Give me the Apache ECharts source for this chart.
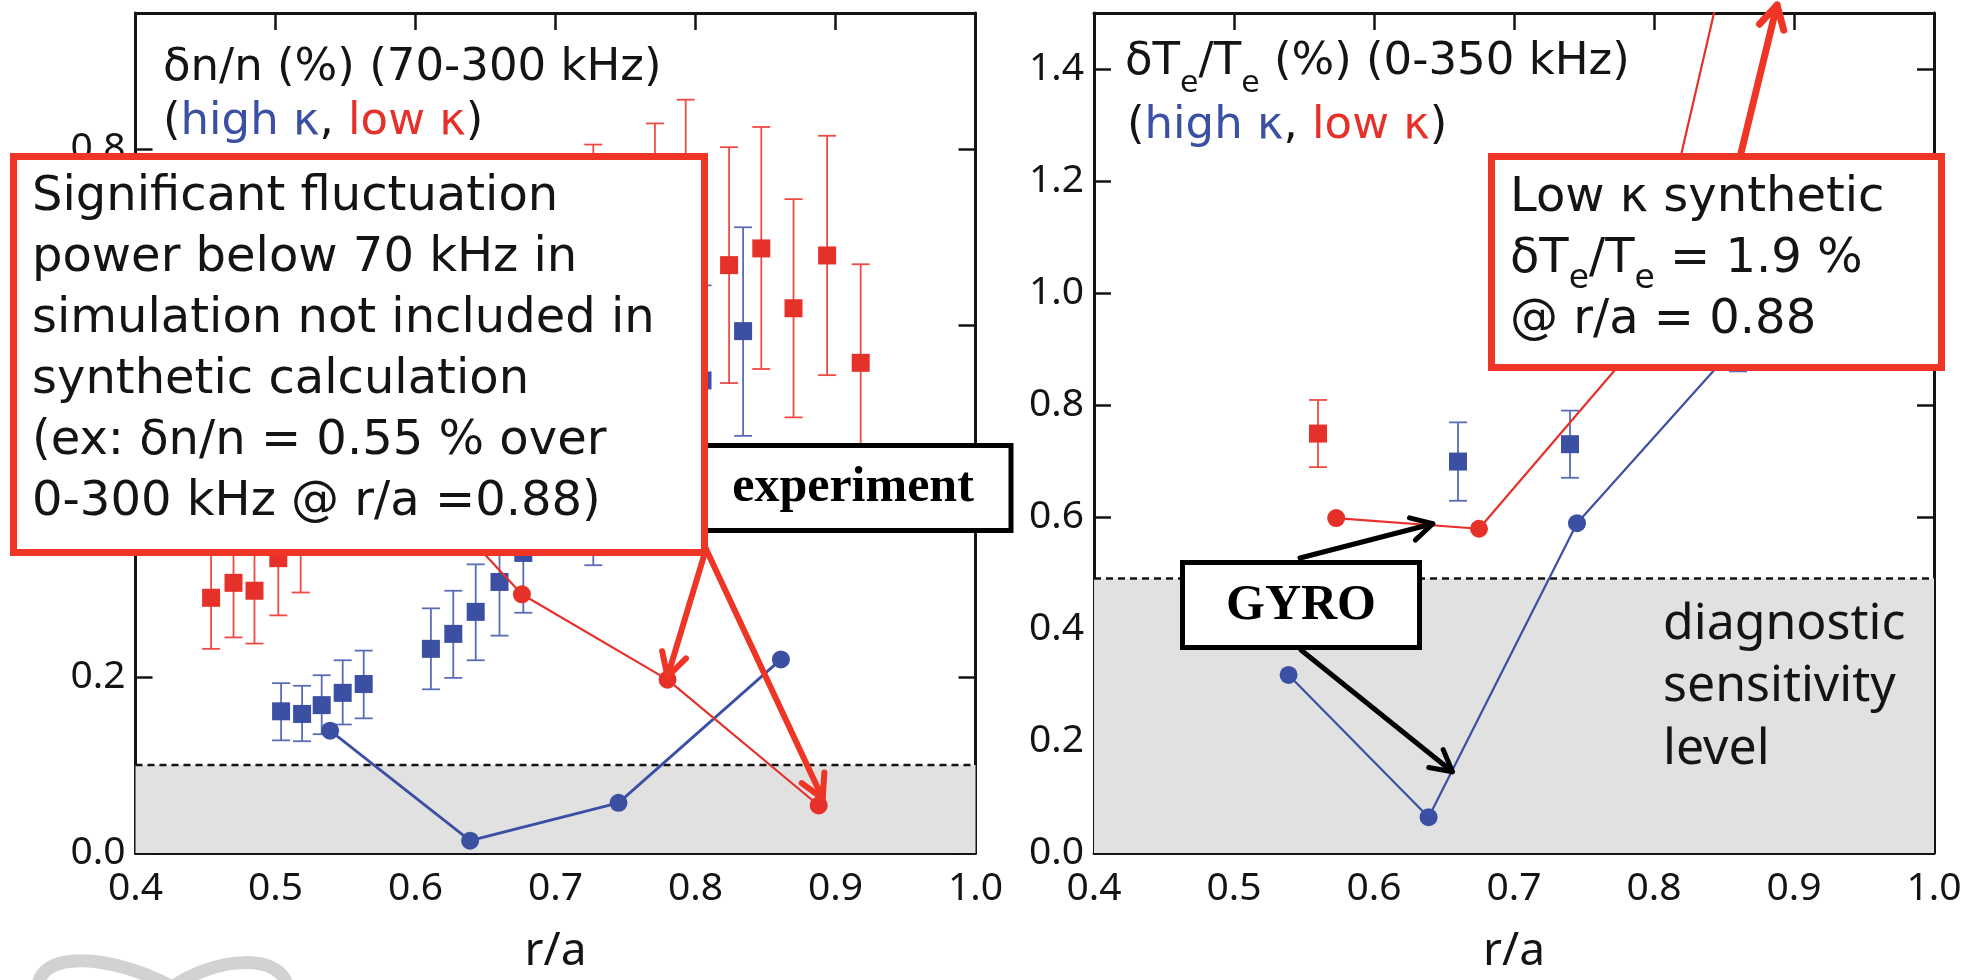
<!DOCTYPE html>
<html>
<head>
<meta charset="utf-8">
<script src="https://cdn.jsdelivr.net/npm/echarts@6/dist/echarts.min.js"></script>
<style>
  html, body { margin: 0; padding: 0; background: #ffffff; }
  #chart { width: 1984px; height: 980px; }
</style>
</head>
<body>
<div id="chart"></div>
<script>
// ---- Left panel: density fluctuation δn/n (%) vs r/a ----
// experiment, high κ (blue squares with error bars)
const dnHighR  = [0.504, 0.519, 0.533, 0.548, 0.563, 0.611, 0.627, 0.643, 0.660, 0.677, 0.727, 0.805, 0.834];
const dnHighV  = [0.161, 0.158, 0.168, 0.182, 0.192, 0.232, 0.249, 0.274, 0.308, 0.341, 0.400, 0.537, 0.593];
const dnHighLo = [0.128, 0.127, 0.135, 0.146, 0.153, 0.186, 0.199, 0.219, 0.247, 0.273, 0.327, 0.430, 0.474];
const dnHighHi = [0.193, 0.190, 0.202, 0.219, 0.230, 0.278, 0.298, 0.328, 0.369, 0.409, 0.473, 0.645, 0.711];
// experiment, low κ (red squares with error bars)
const dnLowR  = [0.454, 0.470, 0.485, 0.502, 0.518, 0.727, 0.771, 0.793, 0.824, 0.847, 0.870, 0.894, 0.918];
const dnLowV  = [0.290, 0.307, 0.298, 0.335, 0.365, 0.640, 0.690, 0.720, 0.668, 0.687, 0.619, 0.679, 0.557];
const dnLowLo = [0.232, 0.245, 0.238, 0.270, 0.296, 0.475, 0.550, 0.585, 0.534, 0.550, 0.495, 0.543, 0.446];
const dnLowHi = [0.348, 0.369, 0.358, 0.400, 0.435, 0.805, 0.829, 0.856, 0.802, 0.825, 0.743, 0.815, 0.669];
// GYRO synthetic values
const gyroDnHighR = [0.539, 0.639, 0.745, 0.861];
const gyroDnHighV = [0.139, 0.014, 0.057, 0.220];
const gyroDnLowR  = [0.573, 0.676, 0.780, 0.888];
const gyroDnLowV  = [0.470, 0.294, 0.197, 0.054];
const dnSensitivity = 0.10;

// ---- Right panel: electron temperature fluctuation δTe/Te (%) vs r/a ----
const dtHighR  = [0.660, 0.740, 0.860];
const dtHighV  = [0.699, 0.730, 0.940];
const dtHighLo = [0.629, 0.670, 0.860];
const dtHighHi = [0.769, 0.790, 1.020];
const dtLowR  = [0.560];
const dtLowV  = [0.749];
const dtLowLo = [0.689];
const dtLowHi = [0.809];
const gyroDtHighR = [0.539, 0.639, 0.745, 0.860];
const gyroDtHighV = [0.318, 0.064, 0.589, 0.910];
const gyroDtLowR  = [0.573, 0.675, 0.788, 0.880];
const gyroDtLowV  = [0.598, 0.579, 0.909, 1.9];
const dtSensitivity = 0.49;

// axis ranges
const xMin = 0.4, xMax = 1.0, xStep = 0.1;
const dnYMax = 0.9545, dtYMax = 1.5, yStep = 0.2;

// ---- styling ----
const BLUE = '#3b4fa3', BLUE_BAR = '#5a6cb6';
const RED = '#e6302a', RED_BAR = '#ee4b44', BOX_RED = '#ee3526';
const INK = '#141414';
const SANS = '"DejaVu Sans", sans-serif';
const TICK_FONT = '"Noto Sans", sans-serif';
const SERIF = '"Liberation Serif", serif';

const chart = echarts.init(document.getElementById('chart'), null, { renderer: 'canvas', width: 1984, height: 980 });

const zip3 = (a, b, c) => a.map((v, i) => [v, b[i], c[i]]);
const zip2 = (a, b) => a.map((v, i) => [v, b[i]]);

function errorBarItem(params, api) {
  const x = api.value(0);
  const top = api.coord([x, api.value(2)]);
  const bot = api.coord([x, api.value(1)]);
  const cap = 9;
  const style = { stroke: api.visual('color'), lineWidth: 1.8 };
  return {
    type: 'group',
    children: [
      { type: 'line', shape: { x1: top[0], y1: top[1], x2: bot[0], y2: bot[1] }, style },
      { type: 'line', shape: { x1: top[0] - cap, y1: top[1], x2: top[0] + cap, y2: top[1] }, style },
      { type: 'line', shape: { x1: bot[0] - cap, y1: bot[1], x2: bot[0] + cap, y2: bot[1] }, style }
    ]
  };
}

function makeXAxes(gridIndex) {
  const common = {
    type: 'value', gridIndex, min: xMin, max: xMax, interval: xStep,
    splitLine: { show: false },
    axisLine: { onZero: false, lineStyle: { color: INK, width: 3 } },
    axisTick: { inside: true, length: 17, lineStyle: { color: INK, width: 2.5 } }
  };
  return [
    Object.assign({}, common, {
      position: 'bottom',
      axisLabel: { margin: 16, fontSize: 39, fontFamily: TICK_FONT, color: INK, formatter: v => v.toFixed(1) },
      name: 'r/a', nameLocation: 'middle', nameGap: 76,
      nameTextStyle: { fontSize: 46, fontFamily: TICK_FONT, color: INK }
    }),
    Object.assign({}, common, { position: 'top', axisLabel: { show: false } })
  ];
}

function makeYAxes(gridIndex, yMax) {
  const common = {
    type: 'value', gridIndex, min: 0, max: yMax, interval: yStep,
    splitLine: { show: false },
    axisLine: { onZero: false, lineStyle: { color: INK, width: 3 } },
    axisTick: { inside: true, length: 17, lineStyle: { color: INK, width: 2.5 } }
  };
  return [
    Object.assign({}, common, {
      position: 'left',
      axisLabel: { margin: 10, fontSize: 39, fontFamily: TICK_FONT, color: INK, showMaxLabel: false, formatter: v => v.toFixed(1) }
    }),
    Object.assign({}, common, { position: 'right', axisLabel: { show: false } })
  ];
}

function panelSeries(xi, yi, d) {
  return [
    { // sensitivity level: shaded band with dashed top
      type: 'line', xAxisIndex: xi, yAxisIndex: yi, z: 1, silent: true,
      data: [[xMin, d.level], [xMax, d.level]], symbol: 'none',
      lineStyle: { color: INK, width: 2.5, type: [7, 5] },
      areaStyle: { color: '#e1e1e1', opacity: 1 }
    },
    { type: 'custom', xAxisIndex: xi, yAxisIndex: yi, z: 3, renderItem: errorBarItem,
      itemStyle: { color: BLUE_BAR }, encode: { x: 0, y: [1, 2] }, data: d.highBars },
    { type: 'custom', xAxisIndex: xi, yAxisIndex: yi, z: 3, renderItem: errorBarItem,
      itemStyle: { color: RED_BAR }, encode: { x: 0, y: [1, 2] }, data: d.lowBars },
    { type: 'scatter', xAxisIndex: xi, yAxisIndex: yi, z: 4, symbol: 'rect', symbolSize: 18,
      itemStyle: { color: BLUE, opacity: 1 }, data: d.highPts },
    { type: 'scatter', xAxisIndex: xi, yAxisIndex: yi, z: 4, symbol: 'rect', symbolSize: 18,
      itemStyle: { color: RED, opacity: 1 }, data: d.lowPts },
    { type: 'line', xAxisIndex: xi, yAxisIndex: yi, z: 5, symbol: 'circle', symbolSize: 18, showAllSymbol: true,
      itemStyle: { color: BLUE }, lineStyle: { color: BLUE, width: d.highWidth }, data: d.gyroHigh },
    { type: 'line', xAxisIndex: xi, yAxisIndex: yi, z: 5, symbol: 'circle', symbolSize: 18, showAllSymbol: true,
      itemStyle: { color: RED }, lineStyle: { color: RED, width: 2.2 }, data: d.gyroLow }
  ];
}

const option = {
  backgroundColor: '#ffffff',
  animation: false,
  grid: [
    { left: 135.5, top: 13, width: 840, height: 840, containLabel: false, outerBoundsMode: 'none' },
    { left: 1094, top: 13, width: 840, height: 840, containLabel: false, outerBoundsMode: 'none' }
  ],
  xAxis: makeXAxes(0).concat(makeXAxes(1)),
  yAxis: makeYAxes(0, dnYMax).concat(makeYAxes(1, dtYMax)),
  series: panelSeries(0, 0, {
    level: dnSensitivity,
    highBars: zip3(dnHighR, dnHighLo, dnHighHi),
    lowBars: zip3(dnLowR, dnLowLo, dnLowHi),
    highPts: zip2(dnHighR, dnHighV),
    lowPts: zip2(dnLowR, dnLowV),
    gyroHigh: zip2(gyroDnHighR, gyroDnHighV),
    gyroLow: zip2(gyroDnLowR, gyroDnLowV),
    highWidth: 2.8
  }).concat(panelSeries(2, 2, {
    level: dtSensitivity,
    highBars: zip3(dtHighR, dtHighLo, dtHighHi),
    lowBars: zip3(dtLowR, dtLowLo, dtLowHi),
    highPts: zip2(dtHighR, dtHighV),
    lowPts: zip2(dtLowR, dtLowV),
    gyroHigh: zip2(gyroDtHighR, gyroDtHighV),
    gyroLow: zip2(gyroDtLowR, gyroDtLowV),
    highWidth: 2.2
  }))
};
chart.setOption(option);

// ---- annotations ----
const toPx = (gridIndex, p) => chart.convertToPixel({ gridIndex }, p);

function arrow(from, to, color, width, head, z) {
  const ang = Math.atan2(to[1] - from[1], to[0] - from[0]);
  const a1 = ang + Math.PI - 0.5, a2 = ang + Math.PI + 0.5;
  const style = { stroke: color, lineWidth: width, fill: null, lineCap: 'round', lineJoin: 'round' };
  return [
    { type: 'line', z, shape: { x1: from[0], y1: from[1], x2: to[0], y2: to[1] }, style },
    { type: 'polyline', z, shape: { points: [
      [to[0] + head * Math.cos(a1), to[1] + head * Math.sin(a1)], to,
      [to[0] + head * Math.cos(a2), to[1] + head * Math.sin(a2)]] }, style }
  ];
}

// text placed by baseline
function textLine(x, baseline, text, fs, family, extra) {
  return Object.assign({
    type: 'text', z: 103, x: x, y: baseline - 0.33 * fs,
    style: Object.assign({ text, fontSize: fs, fontFamily: family, fill: INK, align: 'left', verticalAlign: 'middle' }, extra || {})
  });
}

function subRich(fs, subFs) {
  return {
    m: { fontSize: fs, fontFamily: SANS, fill: INK, lineHeight: 74, verticalAlign: 'middle' },
    s: { fontSize: subFs, fontFamily: SANS, fill: INK, lineHeight: subFs, verticalAlign: 'bottom' }
  };
}

const kappaRich = {
  k: { fontSize: 45, fontFamily: SANS, fill: INK },
  b: { fontSize: 45, fontFamily: SANS, fill: BLUE },
  r: { fontSize: 45, fontFamily: SANS, fill: RED }
};

const graphics = [];

// faint logo mark in the lower-left corner
graphics.push(
  { type: 'bezierCurve', z: 0, shape: { x1: 38, y1: 990, cpx1: 36, cpy1: 950, cpx2: 110, cpy2: 952, x2: 178, y2: 990 },
    style: { stroke: '#d2d2d2', lineWidth: 13, fill: null } },
  { type: 'bezierCurve', z: 0, shape: { x1: 168, y1: 990, cpx1: 215, cpy1: 955, cpx2: 285, cpy2: 952, x2: 288, y2: 990 },
    style: { stroke: '#d2d2d2', lineWidth: 13, fill: null } }
);

// panel headers
graphics.push(textLine(163, 83, 'δn/n (%) (70-300 kHz)', 45, SANS, { }));
graphics.push(textLine(163, 137, '{k|(}{b|high κ}{k|, }{r|low κ}{k|)}', 45, SANS, { rich: kappaRich }));
graphics.push(textLine(1125, 77, '{m|δT}{s|e}{m|/T}{s|e}{m| (%) (0-350 kHz)}', 45, SANS, { rich: subRich(45, 30) }));
graphics.push(textLine(1127, 141, '{k|(}{b|high κ}{k|, }{r|low κ}{k|)}', 45, SANS, { rich: kappaRich }));

// diagnostic sensitivity label
['diagnostic', 'sensitivity', 'level'].forEach((t, i) => {
  graphics.push(Object.assign(textLine(1663, 641 + i * 62.5, t, 50, TICK_FONT), { z: 50 }));
});

// "experiment" box (partly behind the red note)
graphics.push({ type: 'rect', z: 100, shape: { x: 690, y: 445.5, width: 321, height: 85 },
  style: { fill: '#ffffff', stroke: '#000000', lineWidth: 5 } });
graphics.push(Object.assign(textLine(853, 505, 'experiment', 50, SERIF, { fontWeight: 'bold', align: 'center', fill: '#000' }), { z: 101 }));

// red note, left panel
graphics.push({ type: 'rect', z: 102, shape: { x: 13.5, y: 156.5, width: 691, height: 396 },
  style: { fill: '#ffffff', stroke: BOX_RED, lineWidth: 7 } });
[
  'Significant fluctuation',
  'power below 70 kHz in',
  'simulation not included in',
  'synthetic calculation',
  '(ex: δn/n = 0.55 % over',
  '0-300 kHz @ r/a =0.88)'
].forEach((t, i) => graphics.push(textLine(32, 213 + i * 61, t, 48, SANS)));

// red arrows from the note to the low κ GYRO points
const corner = [706, 549];
const tipA = toPx(0, [gyroDnLowR[2], gyroDnLowV[2]]);
const tipB = toPx(0, [gyroDnLowR[3], gyroDnLowV[3]]);
arrow(corner, [tipA[0], tipA[1] - 3], BOX_RED, 6, 26, 104).forEach(g => graphics.push(g));
arrow(corner, [tipB[0] + 4, tipB[1] - 7], BOX_RED, 6, 26, 104).forEach(g => graphics.push(g));

// GYRO label with arrows to the simulated curves
const gTip1 = toPx(1, [0.642, 0.588]);
const gTip2 = toPx(1, [0.656, 0.145]);
arrow([1300, 558], gTip1, '#000000', 5, 24, 100).forEach(g => graphics.push(g));
arrow([1301, 650], gTip2, '#000000', 5, 24, 100).forEach(g => graphics.push(g));
graphics.push({ type: 'rect', z: 101, shape: { x: 1182.5, y: 562.5, width: 237, height: 85 },
  style: { fill: '#ffffff', stroke: '#000000', lineWidth: 5 } });
graphics.push(Object.assign(textLine(1301, 623, 'GYRO', 50, SERIF, { fontWeight: 'bold', align: 'center', fill: '#000' }), { z: 102 }));

// red note, right panel
graphics.push({ type: 'rect', z: 102, shape: { x: 1491.5, y: 156.5, width: 450, height: 211 },
  style: { fill: '#ffffff', stroke: BOX_RED, lineWidth: 7 } });
graphics.push(textLine(1510, 214, 'Low κ synthetic', 48, SANS));
graphics.push(textLine(1510, 275, '{m|δT}{s|e}{m|/T}{s|e}{m| = 1.9 %}', 48, SANS, { rich: subRich(48, 33) }));
graphics.push(textLine(1510, 336, '@ r/a = 0.88', 48, SANS));
arrow([1741, 153], [1777, 5], BOX_RED, 7, 26, 104).forEach(g => graphics.push(g));

chart.setOption({ graphic: { elements: graphics } });
</script>
</body>
</html>
